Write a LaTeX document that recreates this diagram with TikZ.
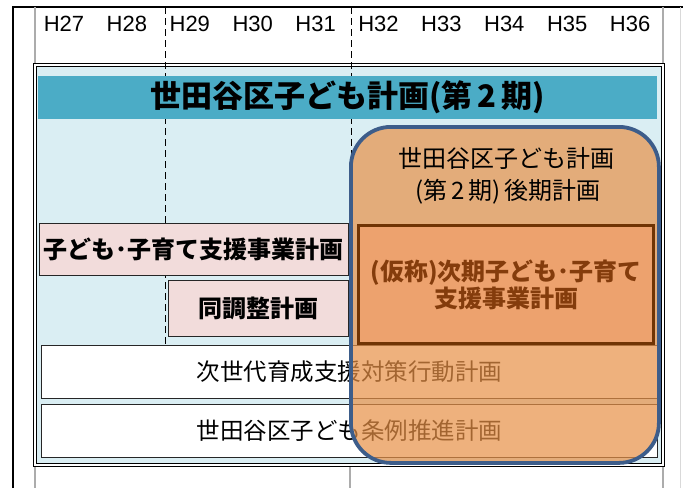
\documentclass[tikz,border=0pt]{standalone}
\usepackage{fontspec}
\setmainfont{Liberation Sans}
\newfontfamily\jp{Noto Sans CJK JP}
\usetikzlibrary{positioning}

\definecolor{paleblue}{RGB}{218,238,243}
\definecolor{bandblue}{RGB}{75,172,198}
\definecolor{pinkfill}{RGB}{242,220,219}
\definecolor{planorange}{RGB}{232,145,71}
\definecolor{planblue}{RGB}{61,93,138}
\definecolor{nextfill}{RGB}{237,162,110}
\definecolor{nextline}{RGB}{112,52,4}
\definecolor{nexttext}{RGB}{132,60,12}

\begin{document}
\begin{tikzpicture}[x=1pt, y=-1pt,
    yearlabel/.style={font=\fontsize{22}{22}\selectfont, inner sep=0pt},
    gridline/.style={gray!65, line width=1.8pt},
    periodline/.style={line width=0.9pt, dash pattern=on 7pt off 4pt},
    pinkbox/.style={draw=black!85, line width=0.8pt, fill=pinkfill, inner sep=0pt, anchor=north west,
      font=\jp\bfseries\fontsize{24}{24}\selectfont},
    rowbox/.style={draw=black!85, line width=0.8pt, fill=white, inner sep=0pt, anchor=north west,
      minimum width=616pt, minimum height=53pt, font=\jp\fontsize{23.5}{23.5}\selectfont}]
  \useasboundingbox (0,0) rectangle (683,488);

  % year axis
  \draw[line width=1.2pt] (13,488) -- (13,7) -- (683,7);
  \draw[gridline] (35,7) -- (35,488);
  \draw[gridline] (663,7) -- (663,488);
  \draw[gridline] (350,465) -- (350,488);
  \draw[gray!30, line width=0.6pt] (680,7) -- (680,488);
  \foreach \yr [count=\i from 0] in {27,...,36}{
    \node[yearlabel] (year\yr) at ({64+62.9*\i},24) {H\yr};
  };

  % frame
  \draw[line width=1.6pt, double=white, double distance=1.4pt, fill=paleblue] (35,65) rectangle (663,465);
  \draw[periodline] (165,7) -- (165,345);
  \draw[periodline] (351,7) -- (351,345);

  \node[fill=bandblue, inner sep=0pt, minimum width=619pt, minimum height=43pt, anchor=north west,
    font=\jp\bfseries\fontsize{31}{31}\selectfont] (title) at (38,76) {世田谷区子ども計画(第\,2\,期)};

  \node[pinkbox, minimum width=309pt, minimum height=52pt] (support) at (39,223) {子ども･子育て支援事業計画};
  \node[pinkbox, minimum width=180pt, minimum height=56pt] (adjust) at (168,280) {同調整計画};

  \node[rowbox] (nextgen) at (41,345) {次世代育成支援対策行動計画};
  \node[rowbox] (ordinance) at (41,404) {世田谷区子ども条例推進計画};

  % latter plan
  \node[draw=planblue, line width=3.8pt, rounded corners=40pt, fill=planorange, fill opacity=0.7,
    minimum width=308pt, minimum height=336pt, anchor=north west] (latter) at (349,125) {};
  \node[align=center, inner sep=0pt, font=\jp\fontsize{24}{32}\selectfont] (lattertext) at (506,176)
    {世田谷区子ども計画\\\,(第\,2\,期)\,後期計画};

  \node[draw=nextline, line width=3pt, fill=nextfill, text=nexttext, align=center, inner sep=0pt,
    minimum width=295pt, minimum height=118pt, anchor=north west,
    font=\jp\bfseries\fontsize{24}{27}\selectfont] (nextplan) at (357,224)
    {(仮称)次期子ども･子育て\\支援事業計画};
\end{tikzpicture}
\end{document}
